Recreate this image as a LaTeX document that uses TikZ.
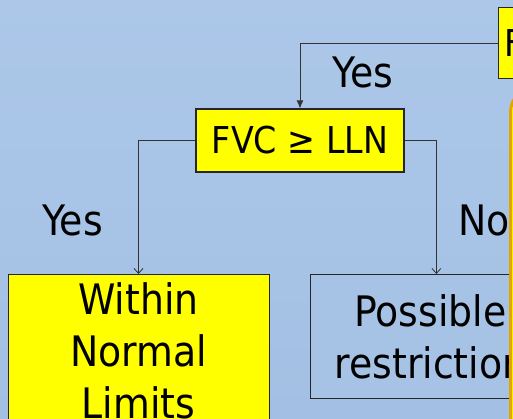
\documentclass[tikz,border=0pt]{standalone}
\usepackage{fontspec}
\setmainfont{DejaVu Sans Condensed}
\usetikzlibrary{arrows.meta, positioning}
\definecolor{slideblue}{RGB}{166,195,229}
\definecolor{boxyellow}{RGB}{255,255,0}
\definecolor{calloutgold}{RGB}{228,164,0}

\begin{document}
\begin{tikzpicture}[x=1pt, y=-1pt,
    ybox/.style={draw=black!85, fill=boxyellow, line width=1.2pt, inner sep=0pt, align=center},
    bbox/.style={draw=black!85, fill=slideblue, line width=0.8pt, inner sep=0pt, align=center},
    link/.style={draw=black!80, line width=0.8pt},
    lbl/.style={font=\fontsize{42}{52}\selectfont},
    fvcfont/.style={font=\fontsize{37}{44}\selectfont}]
    % Slide background
    \useasboundingbox (0,0) rectangle (513,418);
    \clip (0,0) rectangle (513,418);
    \shade[top color={rgb,255:red,172;green,199;blue,232}, bottom color={rgb,255:red,163;green,192;blue,228}] (0,0) rectangle (513,418);

    % Decision boxes
    \node[ybox, fvcfont, anchor=north west, minimum width=80, minimum height=71, text width=70, align=left, inner xsep=6pt] (fev) at (498,7) {F};
    \node[ybox, fvcfont, minimum width=208, minimum height=63] (fvc) at (300,140.5) {FVC ≥ LLN};

    % Outcome boxes
    \node[ybox, lbl, anchor=north, minimum width=261, minimum height=153, text width=250, line width=0.9pt] (wnl) at (138.5,274) {Within\\Normal\\Limits};
    \node[bbox, lbl, anchor=north west, minimum width=240, minimum height=124, text width=230] (pos) at (310,274) {Possible\\restriction};

    % Branch labels
    \node[lbl, anchor=base] (yesTop) at (363,87) {Yes};
    \node[lbl, anchor=base] (yesLeft) at (72.5,235) {Yes};
    \node[lbl, anchor=base] (noRight) at (484,235) {No};

    % Connectors
    \draw[link, -{Latex[length=8pt, width=7pt]}] (fev.west) -| (fvc.north);
    \draw[link, -{Straight Barb[length=5pt, width=9pt]}] (fvc.west) -| (wnl.north);
    \draw[link, -{Straight Barb[length=5pt, width=9pt]}] (fvc.east) -| ([xshift=6pt]pos.north);

    % Callout at the right edge
    \draw[draw=calloutgold, fill=boxyellow, line width=3pt, rounded corners=24pt] (510.5,88) rectangle (640,520);
\end{tikzpicture}
\end{document}
